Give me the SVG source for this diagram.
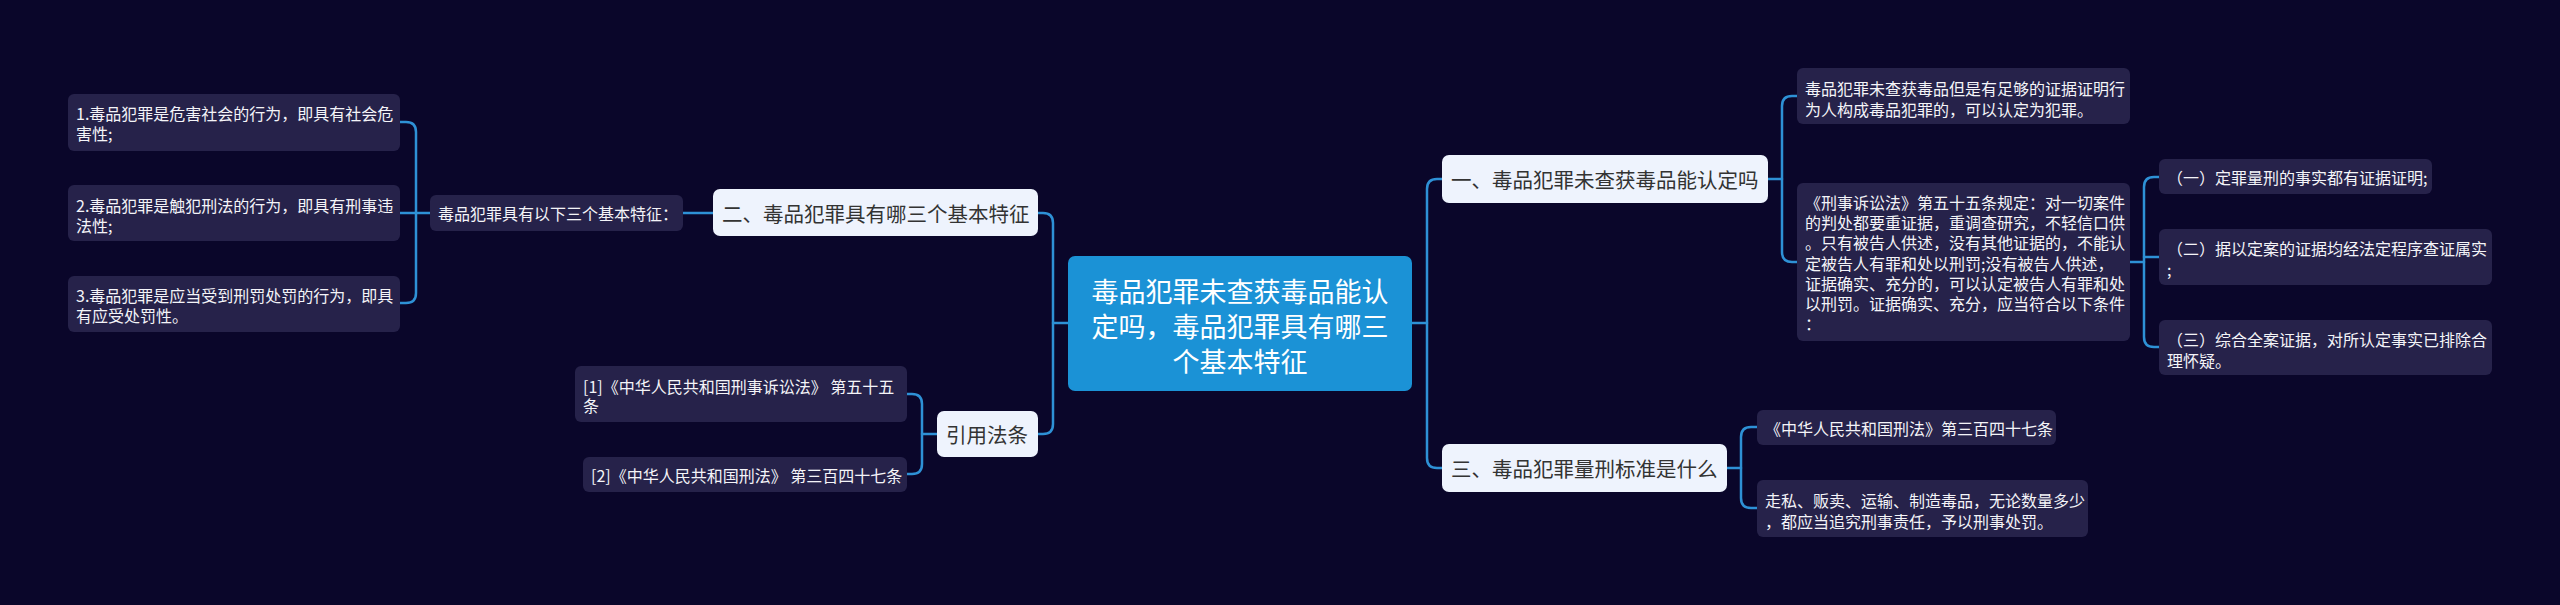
<svg xmlns="http://www.w3.org/2000/svg" width="2560" height="605" viewBox="0 0 2560 605">
<style>
.leaf rect{fill:#26224a}
.leaf text{fill:#f4f4f8;font-family:"Noto Sans CJK SC","Liberation Sans",sans-serif;font-size:16px;dominant-baseline:central}
.lvl1 rect{fill:#eef3fd}
.lvl1 text{fill:#333333;font-family:"Noto Sans CJK SC","Liberation Sans",sans-serif;font-size:20.5px;dominant-baseline:central}
.root rect{fill:#1b92d6}
.root text{fill:#ffffff;font-family:"Noto Sans CJK SC","Liberation Sans",sans-serif;font-size:27px;dominant-baseline:central;text-anchor:middle}
.conn path{fill:none;stroke:#2e91d6;stroke-width:2.5;stroke-linecap:round}
</style>
<rect x="0" y="0" width="2560" height="605" fill="#0a062a"/>
<g class="conn" id="connectors">
<path d="M1068,323 H1053"/>
<path d="M1038,213 H1043 Q1053,213 1053,223 V424 Q1053,434 1043,434 H1038"/>
<path d="M713,213 H683"/>
<path d="M430,213 H400"/>
<path d="M400,122 H406 Q416,122 416,132 V293 Q416,303 406,303 H400"/>
<path d="M937,434 H922"/>
<path d="M907,394 H912 Q922,394 922,404 V464 Q922,474 912,474 H907"/>
<path d="M1412,323 H1427"/>
<path d="M1442,179 H1437 Q1427,179 1427,189 V458 Q1427,468 1437,468 H1442"/>
<path d="M1768,179 H1782"/>
<path d="M1797,96 H1792 Q1782,96 1782,106 V252 Q1782,262 1792,262 H1797"/>
<path d="M2130,262 H2144"/>
<path d="M2159,177 H2154 Q2144,177 2144,187 V337 Q2144,347 2154,347 H2159"/>
<path d="M2144,257 H2159"/>
<path d="M1727,468 H1741"/>
<path d="M1757,427 H1751 Q1741,427 1741,437 V498 Q1741,508 1751,508 H1757"/>
</g>
<g class="root" id="root">
<rect x="1068" y="256" width="344" height="135" rx="7"/>
<text x="1240" y="290">毒品犯罪未查获毒品能认</text>
<text x="1240" y="325">定吗，毒品犯罪具有哪三</text>
<text x="1240" y="360">个基本特征</text>
</g>
<g class="lvl1" id="n-yi">
<rect x="1442" y="155" width="326" height="48" rx="7"/>
<text x="1451" y="179">一、毒品犯罪未查获毒品能认定吗</text>
</g>
<g class="lvl1" id="n-san">
<rect x="1442" y="444" width="285" height="48" rx="7"/>
<text x="1451" y="468">三、毒品犯罪量刑标准是什么</text>
</g>
<g class="lvl1" id="n-er">
<rect x="713" y="189" width="325" height="47" rx="7"/>
<text x="722" y="213">二、毒品犯罪具有哪三个基本特征</text>
</g>
<g class="lvl1" id="n-ref">
<rect x="937" y="411" width="101" height="46" rx="7"/>
<text x="946" y="434">引用法条</text>
</g>
<g class="leaf" id="n-features">
<rect x="430" y="195" width="253" height="36" rx="6"/>
<text x="438" y="213">毒品犯罪具有以下三个基本特征：</text>
</g>
<g class="leaf" id="n-f1">
<rect x="68" y="94" width="332" height="57" rx="6"/>
<text x="76" y="113">1.毒品犯罪是危害社会的行为，即具有社会危</text>
<text x="76" y="133">害性;</text>
</g>
<g class="leaf" id="n-f2">
<rect x="68" y="185" width="332" height="56" rx="6"/>
<text x="76" y="205">2.毒品犯罪是触犯刑法的行为，即具有刑事违</text>
<text x="76" y="225">法性;</text>
</g>
<g class="leaf" id="n-f3">
<rect x="68" y="276" width="332" height="56" rx="6"/>
<text x="76" y="295">3.毒品犯罪是应当受到刑罚处罚的行为，即具</text>
<text x="76" y="315">有应受处罚性。</text>
</g>
<g class="leaf" id="n-ref1">
<rect x="575" y="366" width="332" height="56" rx="6"/>
<text x="583" y="386">[1]《中华人民共和国刑事诉讼法》 第五十五</text>
<text x="583" y="405">条</text>
</g>
<g class="leaf" id="n-ref2">
<rect x="583" y="457" width="324" height="35" rx="6"/>
<text x="591" y="475">[2]《中华人民共和国刑法》 第三百四十七条</text>
</g>
<g class="leaf" id="n-yi-1">
<rect x="1797" y="68" width="333" height="56" rx="6"/>
<text x="1805" y="88">毒品犯罪未查获毒品但是有足够的证据证明行</text>
<text x="1805" y="109">为人构成毒品犯罪的，可以认定为犯罪。</text>
</g>
<g class="leaf" id="n-yi-2">
<rect x="1797" y="183" width="333" height="158" rx="6"/>
<text x="1805" y="202">《刑事诉讼法》第五十五条规定：对一切案件</text>
<text x="1805" y="222">的判处都要重证据，重调查研究，不轻信口供</text>
<text x="1805" y="242">。只有被告人供述，没有其他证据的，不能认</text>
<text x="1805" y="263">定被告人有罪和处以刑罚;没有被告人供述，</text>
<text x="1805" y="283">证据确实、充分的，可以认定被告人有罪和处</text>
<text x="1805" y="303">以刑罚。证据确实、充分，应当符合以下条件</text>
<text x="1805" y="323">：</text>
</g>
<g class="leaf" id="n-c1">
<rect x="2159" y="159" width="273" height="35" rx="6"/>
<text x="2167" y="177">（一）定罪量刑的事实都有证据证明;</text>
</g>
<g class="leaf" id="n-c2">
<rect x="2159" y="229" width="333" height="56" rx="6"/>
<text x="2167" y="248">（二）据以定案的证据均经法定程序查证属实</text>
<text x="2167" y="269">;</text>
</g>
<g class="leaf" id="n-c3">
<rect x="2159" y="320" width="333" height="55" rx="6"/>
<text x="2167" y="339">（三）综合全案证据，对所认定事实已排除合</text>
<text x="2167" y="360">理怀疑。</text>
</g>
<g class="leaf" id="n-san-1">
<rect x="1757" y="410" width="299" height="35" rx="6"/>
<text x="1765" y="428">《中华人民共和国刑法》第三百四十七条</text>
</g>
<g class="leaf" id="n-san-2">
<rect x="1757" y="480" width="331" height="57" rx="6"/>
<text x="1765" y="500">走私、贩卖、运输、制造毒品，无论数量多少</text>
<text x="1765" y="521">，都应当追究刑事责任，予以刑事处罚。</text>
</g>
</svg>
